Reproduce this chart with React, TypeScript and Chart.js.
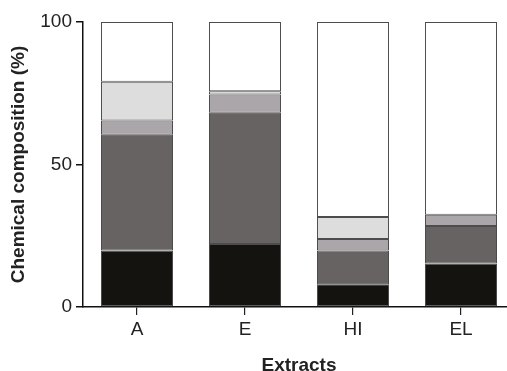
import React, { useEffect, useRef } from "react";
import { Chart, registerables } from "chart.js";

Chart.register(...registerables);

const categories = ["A", "E", "HI", "EL"];
const blackPart = [19.8, 22.1, 8.0, 15.3];
const darkGrayPart = [40.6, 46.1, 11.8, 13.1];
const midGrayPart = [5.0, 6.4, 4.1, 4.0];
const lightGrayPart = [13.6, 1.1, 7.7, 0];
const whitePart = [21.0, 24.3, 68.4, 67.6];
const yTicks = [0, 50, 100];

const FONT = '"Liberation Sans", Arial, Helvetica, sans-serif';

export default function App() {
  const ref = useRef<HTMLCanvasElement | null>(null);

  useEffect(() => {
    if (!ref.current) return;
    const mk = (label: string, data: number[], color: string) => ({
      label,
      data,
      backgroundColor: color,
      borderColor: "#4d4b4b",
      borderWidth: 1,
      borderSkipped: false as const,
      categoryPercentage: 1,
      barPercentage: 0.667,
    });
    const chart = new Chart(ref.current, {
      type: "bar",
      data: {
        labels: categories,
        datasets: [
          mk("Component 1", blackPart, "#141310"),
          mk("Component 2", darkGrayPart, "#676362"),
          mk("Component 3", midGrayPart, "#aaa6a9"),
          mk("Component 4", lightGrayPart, "#dddddd"),
          mk("Component 5", whitePart, "#ffffff"),
        ],
      },
      options: {
        responsive: false,
        animation: false,
        layout: { padding: { left: 7, top: 22, right: 5, bottom: 0 } },
        plugins: { legend: { display: false }, tooltip: { enabled: false } },
        scales: {
          x: {
            stacked: true,
            offset: true,
            afterFit: (s: any) => {
              s.height = 70;
            },
            grid: {
              display: true,
              offset: false,
              drawOnChartArea: false,
              drawTicks: true,
              tickLength: 8,
              color: "#222",
              lineWidth: 1.2,
            },
            border: { display: true, color: "#111", width: 1.5 },
            ticks: {
              color: "#222",
              padding: 3,
              font: { family: FONT, size: 19 },
            },
            title: {
              display: true,
              text: "Extracts",
              color: "#222",
              padding: 0,
              font: { family: FONT, size: 19, weight: "bold" },
            },
          },
          y: {
            stacked: true,
            min: 0,
            max: 100,
            afterFit: (s: any) => {
              s.width = 76;
            },
            afterBuildTicks: (s: any) => {
              s.ticks = yTicks.map((v) => ({ value: v }));
            },
            grid: {
              display: true,
              drawOnChartArea: false,
              drawTicks: true,
              tickLength: 7,
              color: "#111",
              lineWidth: 1.5,
            },
            border: { display: true, color: "#111", width: 1.5 },
            ticks: {
              color: "#222",
              padding: 4,
              font: { family: FONT, size: 19 },
            },
            title: {
              display: true,
              text: "Chemical composition (%)",
              color: "#222",
              padding: 0,
              font: { family: FONT, size: 19, weight: "bold" },
            },
          },
        },
      },
    });
    return () => chart.destroy();
  }, []);

  return (
    <div
      style={{
        position: "fixed",
        left: 0,
        top: 0,
        width: 507,
        height: 371,
        overflow: "hidden",
        background: "#fff",
      }}
    >
      <canvas ref={ref} width={520} height={377} style={{ display: "block" }} />
    </div>
  );
}
